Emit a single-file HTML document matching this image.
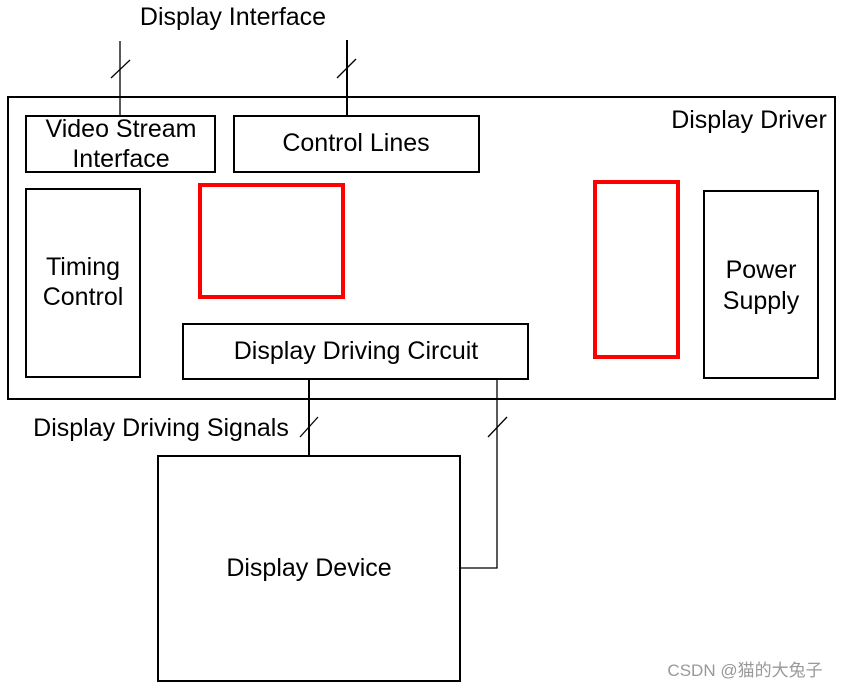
<!DOCTYPE html>
<html><head><style>body{margin:0;background:#fff}</style></head><body>
<svg width="846" height="688" viewBox="0 0 846 688" xmlns="http://www.w3.org/2000/svg" font-family="Liberation Sans, sans-serif" font-size="25" fill="none" stroke="#000">
<rect x="8" y="97" width="827" height="302" stroke-width="2"/>
<rect x="26" y="116" width="189" height="56" stroke-width="2"/>
<rect x="234" y="116" width="245" height="56" stroke-width="2"/>
<rect x="26" y="189" width="114" height="188" stroke-width="2"/>
<rect x="183" y="324" width="345" height="55" stroke-width="2"/>
<rect x="704" y="191" width="114" height="187" stroke-width="2"/>
<rect x="158" y="456" width="302" height="225" stroke-width="2"/>
<rect x="200" y="185" width="143" height="112" stroke="#f00" stroke-width="4"/>
<rect x="595" y="182" width="83" height="175" stroke="#f00" stroke-width="4"/>
<line x1="120" y1="41" x2="120" y2="116" stroke-width="1.3"/>
<line x1="111" y1="78" x2="130" y2="60" stroke-width="1.3"/>
<line x1="347" y1="40" x2="347" y2="116" stroke-width="2"/>
<line x1="337" y1="78" x2="356" y2="59" stroke-width="1.3"/>
<line x1="309" y1="379" x2="309" y2="456" stroke-width="2"/>
<line x1="300" y1="437" x2="318" y2="417" stroke-width="1.3"/>
<polyline points="497,379 497,568 460,568" stroke-width="1.3"/>
<line x1="488" y1="437" x2="507" y2="417" stroke-width="1.3"/>
<g fill="#000" stroke="none" text-anchor="middle">
<text x="233" y="25">Display Interface</text>
<text x="121" y="137">Video Stream</text>
<text x="121" y="167">Interface</text>
<text x="356" y="151">Control Lines</text>
<text x="749" y="128">Display Driver</text>
<text x="83" y="275">Timing</text>
<text x="83" y="305">Control</text>
<text x="761" y="278">Power</text>
<text x="761" y="309">Supply</text>
<text x="356" y="359">Display Driving Circuit</text>
<text x="161" y="436">Display Driving Signals</text>
<text x="309" y="576">Display Device</text>
<text x="745" y="676" font-size="17" fill="#999" font-family="Liberation Sans, Noto Sans CJK SC, sans-serif">CSDN @猫的大兔子</text>
</g>
</svg>
</body></html>
